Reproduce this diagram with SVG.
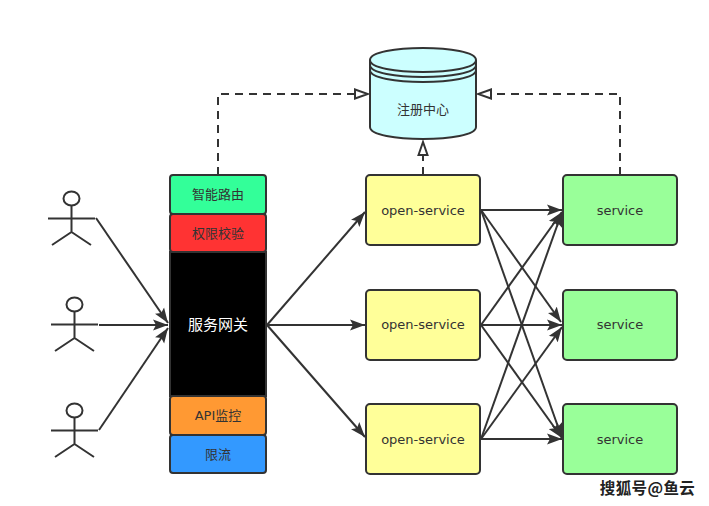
<svg xmlns="http://www.w3.org/2000/svg" width="709" height="506" viewBox="0 0 709 506">
<style>
text{font-family:"DejaVu Sans","Noto Sans CJK SC",sans-serif;font-size:13px;fill:#333;text-anchor:middle}
.h{font-family:"Noto Sans CJK SC",sans-serif}
.b{stroke:#333;stroke-width:2}
.c{fill:none;stroke:#333;stroke-width:2}
.d{fill:none;stroke:#333;stroke-width:2;stroke-dasharray:8 6}
.o{fill:#ffff99}.s{fill:#99ff99}
</style>
<defs>
<marker id="a" viewBox="0 0 16 12" refX="15" refY="6" markerWidth="16" markerHeight="12" markerUnits="userSpaceOnUse" orient="auto"><path d="M0 .5L15 6L0 11.500L3 6Z" fill="#333"/></marker>
<marker id="t" viewBox="0 0 16 12" refX="14" refY="6" markerWidth="16" markerHeight="12" markerUnits="userSpaceOnUse" orient="auto"><path d="M1 1.500L14 6L1 10.500Z" fill="#fff" stroke="#333" stroke-width="2"/></marker>
</defs>
<rect width="709" height="506" fill="#fff"/>
<g id="connectors">
<path class="d" d="M218 175V94H368" marker-end="url(#t)"/>
<path class="d" d="M620 175V94H478" marker-end="url(#t)"/>
<path class="d" d="M423 175V142" marker-end="url(#t)"/>
<path class="c" marker-end="url(#a)" d="M96 218L168 323"/>
<path class="c" marker-end="url(#a)" d="M99 325H168"/>
<path class="c" marker-end="url(#a)" d="M99 430L168 328"/>
<path class="c" marker-end="url(#a)" d="M267 325L365 212"/>
<path class="c" marker-end="url(#a)" d="M267 325H365"/>
<path class="c" marker-end="url(#a)" d="M267 325L365 437"/>
<path class="c" marker-end="url(#a)" d="M481 210H562"/>
<path class="c" marker-end="url(#a)" d="M481 210L561 322"/>
<path class="c" marker-end="url(#a)" d="M481 210L562 438"/>
<path class="c" marker-end="url(#a)" d="M481 325L562 212"/>
<path class="c" marker-end="url(#a)" d="M481 325H562"/>
<path class="c" marker-end="url(#a)" d="M481 325L562 438"/>
<path class="c" marker-end="url(#a)" d="M481 439L562 212"/>
<path class="c" marker-end="url(#a)" d="M481 439L562 327"/>
<path class="c" marker-end="url(#a)" d="M481 439H562"/>
</g>
<g id="actor1" class="c"><ellipse cx="71.500" cy="198.500" rx="8" ry="7"/><path d="M71.500 205.500V232M48 218.500H95M71.500 232L52 245M71.500 232L91 245"/></g>
<g id="actor2" class="c"><ellipse cx="74.500" cy="304.500" rx="8" ry="7"/><path d="M74.500 311.500V338M51 324.500H98M74.500 338L55 351M74.500 338L94 351"/></g>
<g id="actor3" class="c"><ellipse cx="74.500" cy="410.500" rx="8" ry="7"/><path d="M74.500 417.500V444M51 430.500H98M74.500 444L55 457M74.500 444L94 457"/></g>
<g id="gw-route"><rect class="b" x="170" y="175" width="96" height="39" rx="3" fill="#33ff99"/><text class="h" x="218" y="199">智能路由</text></g>
<g id="gw-auth"><rect class="b" x="170" y="214" width="96" height="38" rx="3" fill="#ff3333"/><text class="h" x="218" y="238">权限校验</text></g>
<g id="gateway"><rect class="b" x="170" y="252" width="96" height="144" fill="#000"/><text class="h" x="218" y="330" style="fill:#fff;font-size:15px">服务网关</text></g>
<g id="gw-monitor"><rect class="b" x="170" y="396" width="96" height="39" rx="3" fill="#ff9933"/><text x="218" y="420">API监控</text></g>
<g id="gw-limit"><rect class="b" x="170" y="435" width="96" height="38" rx="3" fill="#3399ff"/><text class="h" x="218" y="459">限流</text></g>
<g id="registry"><path class="b" fill="#ccffff" d="M370 60C370 44 476 44 476 60V127C476 143 370 143 370 127Z"/><path class="c" d="M370 60C370 76 476 76 476 60M370 65C370 81 476 81 476 65M370 70C370 86 476 86 476 70"/><text class="h" x="423" y="114">注册中心</text></g>
<g id="open1"><rect class="b o" x="366" y="175" width="114" height="70" rx="4"/><text x="423" y="215">open-service</text></g>
<g id="open2"><rect class="b o" x="366" y="290" width="114" height="70" rx="4"/><text x="423" y="329">open-service</text></g>
<g id="open3"><rect class="b o" x="366" y="404" width="114" height="70" rx="4"/><text x="423" y="444">open-service</text></g>
<g id="service1"><rect class="b s" x="563" y="175" width="114" height="70" rx="4"/><text x="620" y="215">service</text></g>
<g id="service2"><rect class="b s" x="563" y="290" width="114" height="70" rx="4"/><text x="620" y="329">service</text></g>
<g id="service3"><rect class="b s" x="563" y="404" width="114" height="70" rx="4"/><text x="620" y="444">service</text></g>
<text class="h" x="647.500" y="494" style="font-size:15.500px;font-weight:700;fill:#222;letter-spacing:.4px">搜狐号@鱼云</text>
</svg>
